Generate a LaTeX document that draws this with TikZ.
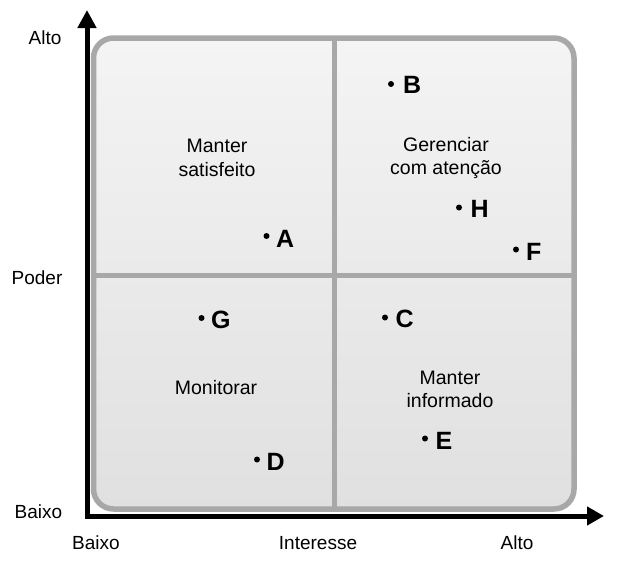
\documentclass[tikz,border=0pt]{standalone}
\usepackage{fontspec}
\setmainfont{Liberation Sans}
\usetikzlibrary{arrows.meta}
\definecolor{boxgray}{HTML}{A8A8A8}
\definecolor{filltop}{HTML}{F4F4F4}
\definecolor{fillbot}{HTML}{E0E0E0}
\tikzset{
  axislab/.style={inner sep=0pt, font=\fontsize{19}{22}\selectfont},
  quadlab/.style={inner sep=0pt, align=center, font=\fontsize{19.5}{23.5}\selectfont},
  dotmark/.style={circle, fill=black, inner sep=0pt, minimum size=6pt},
  ptlab/.style={inner sep=0pt, anchor=west, font=\fontsize{25}{28}\bfseries\selectfont},
  axisline/.style={line width=5pt, line join=miter, {Triangle[length=18pt,width=18pt]}-{Triangle[length=17pt,width=18pt]}},
  divider/.style={line width=5.5pt, draw=boxgray}
}
\begin{document}
\begin{tikzpicture}[x=1pt,y=-1pt]
\useasboundingbox (0,0) rectangle (620,562);
% axes
\coordinate (ytip) at (87,10);
\coordinate (orig) at (87,516);
\coordinate (xtip) at (604,516);
\draw[axisline] (ytip) -- (orig) -- (xtip);
% box
\draw[line width=5.5pt, draw=boxgray, rounded corners=20pt, top color=filltop, bottom color=fillbot]
  (93.5,38) rectangle (574,509);
\coordinate (vt) at (334.5,38);
\coordinate (vb) at (334.5,509);
\coordinate (hl) at (93.5,275.5);
\coordinate (hr) at (574,275.5);
\draw[divider] (vt) -- (vb);
\draw[divider] (hl) -- (hr);
% axis labels
\node[axislab] (yhi) at (45,38) {Alto};
\node[axislab] (ymid) at (37,278) {Poder};
\node[axislab] (ylo) at (38.5,512) {Baixo};
\node[axislab] (xlo) at (96,543) {Baixo};
\node[axislab] (xmid) at (318,543) {Interesse};
\node[axislab] (xhi) at (517,543) {Alto};
% quadrant labels
\node[quadlab] (q1) at (217,158) {Manter\\satisfeito};
\node[quadlab] (q2) at (446,158) {Gerenciar\\com atenção};
\node[quadlab] (q3) at (216,388) {Monitorar};
\node[quadlab] (q4) at (450,389.5) {Manter\\informado};
% points
\node[dotmark] (dB) at (391,84) {};
\node[ptlab] (B) at (403,84.5) {B};
\node[dotmark] (dH) at (459,207.5) {};
\node[ptlab] (H) at (470.5,209) {H};
\node[dotmark] (dF) at (516,249.5) {};
\node[ptlab] (F) at (526,251.5) {F};
\node[dotmark] (dA) at (266.5,236) {};
\node[ptlab] (A) at (276,239) {A};
\node[dotmark] (dG) at (201.5,318) {};
\node[ptlab] (G) at (211,319.5) {G};
\node[dotmark] (dC) at (385,317.5) {};
\node[ptlab] (C) at (395.5,319) {C};
\node[dotmark] (dD) at (257,459.5) {};
\node[ptlab] (D) at (266.5,461.5) {D};
\node[dotmark] (dE) at (425,438.5) {};
\node[ptlab] (E) at (435.5,441) {E};
\end{tikzpicture}
\end{document}
